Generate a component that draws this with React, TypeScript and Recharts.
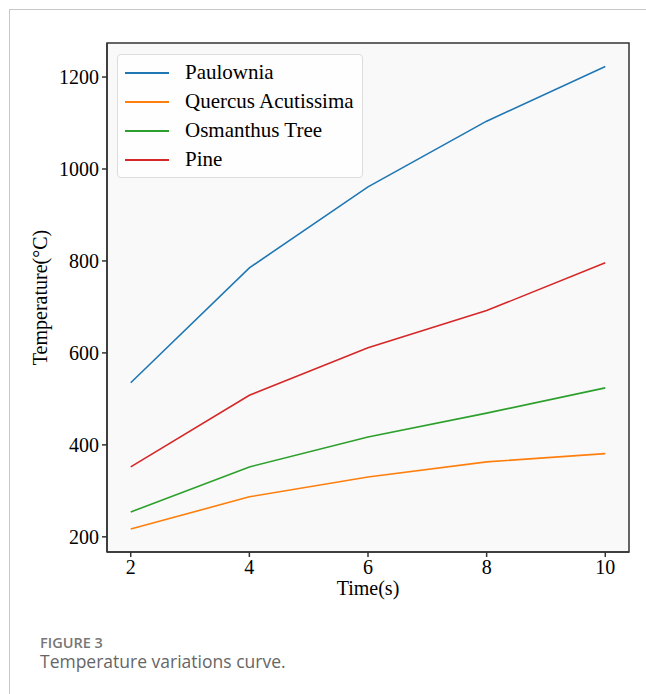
import { LineChart, Line, XAxis, YAxis, Legend, ReferenceArea } from 'recharts';

const times = [2, 4, 6, 8, 10];
const paulownia = [535, 785, 961, 1104, 1223];
const quercus = [217, 287, 330, 363, 381];
const osmanthus = [254, 352, 417, 469, 524];
const pine = [352, 508, 611, 692, 796];

const xTicks = [2, 4, 6, 8, 10];
const yTicks = [200, 400, 600, 800, 1000, 1200];

const series = [
  { key: 'Paulownia', color: '#1f77b4' },
  { key: 'Quercus Acutissima', color: '#ff7f0e' },
  { key: 'Osmanthus Tree', color: '#2ca02c' },
  { key: 'Pine', color: '#d62728' },
];

const data = times.map((t, i) => ({
  t,
  Paulownia: paulownia[i],
  'Quercus Acutissima': quercus[i],
  'Osmanthus Tree': osmanthus[i],
  Pine: pine[i],
}));

const serif = '"Liberation Serif", "Times New Roman", serif';
const tickStyle = { fill: '#000', fontFamily: serif, fontSize: 20 };

function LegendBox() {
  return (
    <div
      style={{
        background: 'rgba(255,255,255,0.85)',
        border: '1px solid #dcdcdc',
        borderRadius: 4,
        padding: '3px 8px 3px 7px',
        fontFamily: serif,
        fontSize: 21,
        color: '#000',
      }}
    >
      {series.map((s) => (
        <div key={s.key} style={{ display: 'flex', alignItems: 'center', height: 29 }}>
          <span style={{ display: 'inline-block', width: 44, height: 2, background: s.color, marginRight: 16 }} />
          <span>{s.key}</span>
        </div>
      ))}
    </div>
  );
}

export default function App() {
  return (
    <div style={{ position: 'absolute', left: 0, top: 0, width: 646, height: 694, background: '#fff', overflow: 'hidden' }}>
      <div
        style={{
          position: 'absolute',
          left: 9,
          top: 9,
          width: 646,
          height: 700,
          borderTop: '1px solid #c8c8c8',
          borderLeft: '1px solid #c8c8c8',
        }}
      />
      <div style={{ position: 'absolute', left: 0, top: 0 }}>
        <LineChart width={646} height={694} data={data} margin={{ top: 43, right: 17, bottom: 92, left: 33 }}>
          <ReferenceArea x1={1.6} x2={10.4} y1={167} y2={1274} fill='#f9f9f9' fillOpacity={1} stroke='#333' strokeWidth={1.5} />
          <XAxis
            dataKey='t'
            type='number'
            domain={[1.6, 10.4]}
            ticks={xTicks}
            allowDataOverflow
            height={50}
            tickSize={5}
            tickMargin={3}
            tick={tickStyle}
            stroke='#333'
            strokeWidth={1.5}
            label={{ value: 'Time(s)', position: 'insideBottom', offset: 7, style: { fill: '#000', fontFamily: serif, fontSize: 20 } }}
          />
          <YAxis
            type='number'
            domain={[167, 1274]}
            ticks={yTicks}
            allowDataOverflow
            width={74}
            tickSize={5}
            tickMargin={3}
            tick={tickStyle}
            stroke='#333'
            strokeWidth={1.5}
            label={{
              value: 'Temperature(°C)',
              angle: -90,
              position: 'insideLeft',
              offset: 7,
              style: { fill: '#000', fontFamily: serif, fontSize: 20, textAnchor: 'middle' },
            }}
          />
          <Legend
            layout='vertical'
            verticalAlign='middle'
            align='center'
            content={() => <LegendBox />}
            wrapperStyle={{ left: 117, top: 54, width: 'auto' }}
          />
          {series.map((s) => (
            <Line
              key={s.key}
              dataKey={s.key}
              stroke={s.color}
              strokeWidth={1.6}
              dot={false}
              activeDot={false}
              isAnimationActive={false}
            />
          ))}
        </LineChart>
      </div>
      <div
        style={{
          position: 'absolute',
          left: 40,
          top: 635,
          lineHeight: '16px',
          fontFamily: '"Open Sans", sans-serif',
          fontSize: 14.5,
          fontWeight: 600,
          color: '#777',
        }}
      >
        FIGURE 3
      </div>
      <div
        style={{
          position: 'absolute',
          left: 40,
          top: 652,
          lineHeight: '18px',
          fontFamily: '"Open Sans", sans-serif',
          fontSize: 17.5,
          color: '#666',
        }}
      >
        Temperature variations curve.
      </div>
    </div>
  );
}
